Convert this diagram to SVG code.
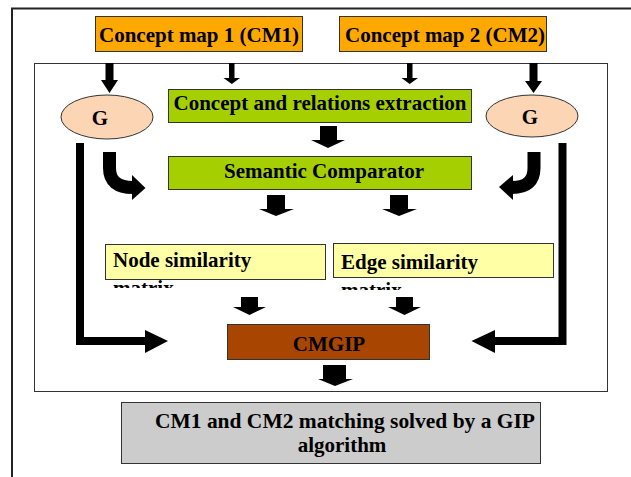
<svg xmlns="http://www.w3.org/2000/svg" width="631" height="477" viewBox="0 0 631 477">
<style>
.t{font-family:"Liberation Serif","Times New Roman",serif;font-weight:bold;font-size:21px;fill:#000}
.box{stroke:#333;stroke-width:1}
.blk{fill:#000;stroke:none}
.thick{fill:none;stroke:#000;stroke-width:8}
.curve{fill:none;stroke:#000;stroke-width:13}
</style>
<defs>
<clipPath id="clipN"><rect x="100" y="278" width="230" height="10"/></clipPath>
<clipPath id="clipE"><rect x="330" y="276" width="230" height="14"/></clipPath>
<clipPath id="clipS1"><rect x="90" y="140" width="12" height="5"/></clipPath>
<clipPath id="clipS2"><rect x="519" y="140" width="12" height="5"/></clipPath>
</defs>
<rect width="631" height="477" fill="#fff"/>
<!-- frames -->
<path d="M12,477 V8.5 H631" fill="none" stroke="#222" stroke-width="2"/>
<rect x="34.5" y="63.5" width="573" height="328" fill="none" stroke="#333" stroke-width="1"/>

<g id="cm1"><rect class="box" x="95.5" y="16.5" width="207" height="35" fill="#FFA800"/><text class="t" x="199" y="42" text-anchor="middle" textLength="200" lengthAdjust="spacingAndGlyphs">Concept map 1 (CM1)</text></g>
<g id="cm2"><rect class="box" x="339.5" y="16.5" width="207" height="35" fill="#FFA800"/><text class="t" x="445" y="42" text-anchor="middle" textLength="200" lengthAdjust="spacingAndGlyphs">Concept map 2 (CM2)</text></g>

<g id="g1"><ellipse class="box" cx="107" cy="117" rx="46" ry="22" fill="#FCD5B4"/><text class="t" x="100" y="125" text-anchor="middle">G</text><text class="t" x="96" y="152" font-size="10" clip-path="url(#clipS1)" text-anchor="middle" style="font-size:10px">1</text></g>
<g id="g2"><ellipse class="box" cx="532" cy="116" rx="46" ry="21" fill="#FCD5B4"/><text class="t" x="530" y="124" text-anchor="middle">G</text><text class="t" x="525" y="152" clip-path="url(#clipS2)" text-anchor="middle" style="font-size:10px">2</text></g>

<g id="extract"><rect class="box" x="168.5" y="89.5" width="303" height="33" fill="#A6CF00"/><text class="t" x="320" y="110" text-anchor="middle">Concept and relations extraction</text></g>
<g id="semantic"><rect class="box" x="168.5" y="156.5" width="303" height="33" fill="#A6CF00"/><text class="t" x="324" y="178" text-anchor="middle">Semantic Comparator</text></g>

<g id="node"><rect class="box" x="105.5" y="244.5" width="220" height="35" fill="#FFFFA6"/><text class="t" x="113" y="267">Node similarity</text><text class="t" x="113" y="295" clip-path="url(#clipN)">matrix</text></g>
<g id="edge"><rect class="box" x="333.5" y="243.5" width="220" height="34" fill="#FFFFA6"/><text class="t" x="341" y="269">Edge similarity</text><text class="t" x="341" y="297" clip-path="url(#clipE)">matrix</text></g>

<g id="cmgip"><rect class="box" x="227.5" y="324.5" width="202" height="35" fill="#A84500"/><text class="t" x="329" y="351" text-anchor="middle">CMGIP</text></g>

<g id="result"><rect class="box" x="121.5" y="402.5" width="419" height="61" fill="#CCCCCC"/><text class="t" x="155" y="428" textLength="380" lengthAdjust="spacingAndGlyphs">CM1 and CM2 matching solved by a GIP</text><text class="t" x="342" y="452" text-anchor="middle">algorithm</text></g>

<g id="connectors">
<!-- top arrows -->
<polygon class="blk" points="105.5,63 113.5,63 113.5,80 118,80 109.5,93 101,80 105.5,80"/>
<polygon class="blk" points="229,63 234.5,63 234.5,78 240,78 231.8,84 223.5,78 229,78"/>
<polygon class="blk" points="407,63 412.5,63 412.5,78 418,78 409.7,84 401.5,78 407,78"/>
<polygon class="blk" points="529.5,63 537.5,63 537.5,81 542,81 533.5,93 525,81 529.5,81"/>
<!-- extraction to semantic -->
<polygon class="blk" points="320,126 337,126 337,140 345,140 328,148 311,140 320,140"/>
<!-- semantic to matrices -->
<polygon class="blk" points="267,195 285,195 285,209 294,209 276,216 259,209 267,209"/>
<polygon class="blk" points="390,195 408,195 408,209 417,209 399,216 382,209 390,209"/>
<!-- matrices to CMGIP -->
<polygon class="blk" points="241,297 258,297 258,307 266,307 249.5,315 233,307 241,307"/>
<polygon class="blk" points="396,297 413,297 413,307 421,307 404.5,315 388,307 396,307"/>
<!-- CMGIP to result -->
<polygon class="blk" points="323,365 346,365 346,379 353,379 335,386 318,379 323,379"/>
<!-- curved arrows -->
<path class="curve" d="M109.5,152 V168 Q109.5,187.5 133,187.5"/>
<polygon class="blk" points="132,175 145.5,188 132,200"/>
<path class="curve" d="M534,152 V168 Q534,187.5 512,187.5"/>
<polygon class="blk" points="513,175 499,187 513,200"/>
<!-- side brackets -->
<path class="thick" d="M80,143 V341 H146"/>
<polygon class="blk" points="145,330 168,341 145,353"/>
<path class="thick" d="M562.5,143 V341 H494"/>
<polygon class="blk" points="495,330 471.5,341 495,353"/>
</g>
</svg>
